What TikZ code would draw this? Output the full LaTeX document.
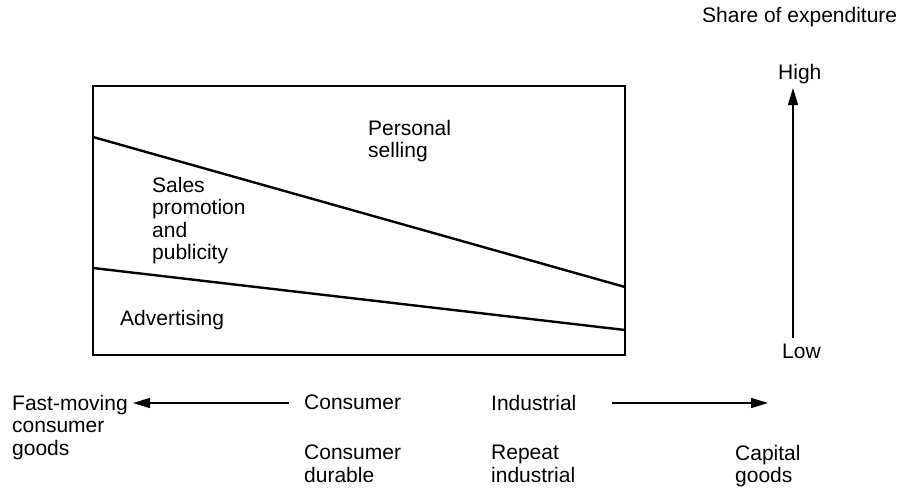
\documentclass[tikz,border=0pt]{standalone}
\usepackage{fontspec}
\setmainfont{Liberation Sans}
\usetikzlibrary{arrows.meta}
\begin{document}
\begin{tikzpicture}[x=1pt,y=-1pt,
  lbl/.style={anchor=north west,inner sep=0pt,align=left,font=\fontsize{21}{22.5}\selectfont},
  frame/.style={draw=black,line width=1.2pt},
  divider/.style={draw=black,line width=2.4pt},
  axisarrow/.style={draw=black,line width=1.4pt,-{Triangle[length=17pt,width=10pt]}}]
\useasboundingbox (0,0) rectangle (907,493);
% box
\coordinate (bl) at (93,355);
\coordinate (tr) at (625,86);
\draw[frame] (bl) rectangle (tr);
% divider lines
\coordinate (ul) at (93,137);
\coordinate (ur) at (625,287);
\coordinate (ll) at (93,268);
\coordinate (lr) at (625,330);
\draw[divider] (ul) -- (ur);
\draw[divider] (ll) -- (lr);
% labels in box
\node[lbl] (personal) at (368,120) {Personal\\selling};
\node[lbl] (sales) at (152,177) {Sales\\promotion\\and\\publicity};
\node[lbl] (adv) at (120,310) {Advertising};
% right axis
\node[lbl] (share) at (702,7) {Share of expenditure};
\node[lbl] (high) at (778,64) {High};
\node[lbl] (low) at (782,344) {Low};
\coordinate (vbot) at (793,338);
\coordinate (vtop) at (793,88);
\draw[axisarrow] (vbot) -- (vtop);
% bottom axis
\node[lbl] (fmcg) at (12,395) {Fast-moving\\consumer\\goods};
\node[lbl] (cons) at (304,395) {Consumer};
\node[lbl] (ind) at (491,395) {Industrial};
\node[lbl] (cdur) at (304,445) {Consumer\\durable};
\node[lbl] (rep) at (491,445) {Repeat\\industrial};
\node[lbl] (cap) at (735,445) {Capital\\goods};
\coordinate (la) at (289,403);
\coordinate (lb) at (133,403);
\coordinate (ra) at (612,403);
\coordinate (rb) at (768,403);
\draw[axisarrow] (la) -- (lb);
\draw[axisarrow] (ra) -- (rb);
\end{tikzpicture}
\end{document}
